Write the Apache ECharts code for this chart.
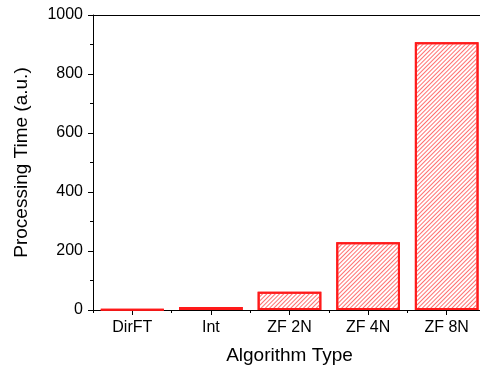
<!DOCTYPE html>
<html>
<head>
<meta charset="utf-8">
<script src="https://cdn.jsdelivr.net/npm/echarts@6/dist/echarts.min.js"></script>
<style>
  html, body { margin: 0; padding: 0; background: #fff; }
  #chart { width: 480px; height: 373px; }
</style>
</head>
<body>
<div id="chart"></div>
<script>
// Processing time per reconstruction algorithm
const categories = ['DirFT', 'Int', 'ZF 2N', 'ZF 4N', 'ZF 8N'];
const processingTime = [2, 10, 62, 230, 908];
const yMin = 0, yMax = 1000, yStep = 200;

const font = 'Liberation Sans, Arial, sans-serif';
const chart = echarts.init(document.getElementById('chart'), null, { renderer: 'canvas' });

chart.setOption({
  animation: false,
  grid: { left: 93, top: 15, width: 393, height: 295, containLabel: false, outerBoundsMode: 'none' },
  xAxis: [
    {
      type: 'category',
      data: categories,
      position: 'bottom',
      name: 'Algorithm Type',
      nameLocation: 'middle',
      nameGap: 36,
      nameTextStyle: { fontFamily: font, fontSize: 19, color: '#000' },
      axisLine: { show: true, lineStyle: { color: '#000', width: 1 } },
      axisTick: { show: true, alignWithLabel: true, length: 5, inside: false, lineStyle: { color: '#000' } },
      axisLabel: { fontFamily: font, fontSize: 16, color: '#000', margin: 10 },
      splitLine: { show: false }
    },
    {
      // short ticks between categories
      type: 'category',
      data: categories,
      position: 'bottom',
      axisLine: { show: false },
      axisTick: { show: true, length: 3, lineStyle: { color: '#000' } },
      axisLabel: { show: false },
      splitLine: { show: false }
    },
    {
      // top frame line
      type: 'category',
      data: categories,
      position: 'top',
      axisLine: { show: true, lineStyle: { color: '#000', width: 1 } },
      axisTick: { show: false },
      axisLabel: { show: false },
      splitLine: { show: false }
    }
  ],
  yAxis: {
    type: 'value',
    min: yMin, max: yMax, interval: yStep,
    name: 'Processing Time (a.u.)',
    nameLocation: 'middle',
    nameGap: 62,
    nameRotate: 90,
    nameTextStyle: { fontFamily: font, fontSize: 19, color: '#000' },
    axisLine: { show: true, lineStyle: { color: '#000', width: 1 } },
    axisTick: { show: true, length: 5, lineStyle: { color: '#000' } },
    minorTick: { show: true, splitNumber: 2, length: 3, lineStyle: { color: '#000' } },
    axisLabel: { fontFamily: font, fontSize: 16, color: '#000', margin: 10, formatter: v => String(v) },
    splitLine: { show: false }
  },
  series: [{
    type: 'bar',
    data: processingTime,
    xAxisIndex: 0,
    barCategoryGap: '19%',
    itemStyle: {
      color: '#ffffff',
      borderColor: '#ff1a1a',
      borderWidth: 2,
      // fine diagonal hatch rising to the right
      decal: {
        symbol: 'rect',
        symbolSize: 1,
        dashArrayX: [1, 0],
        dashArrayY: [1, 2],
        rotation: -Math.PI / 4,
        color: '#ff7070'
      }
    }
  }]
});
</script>
</body>
</html>
